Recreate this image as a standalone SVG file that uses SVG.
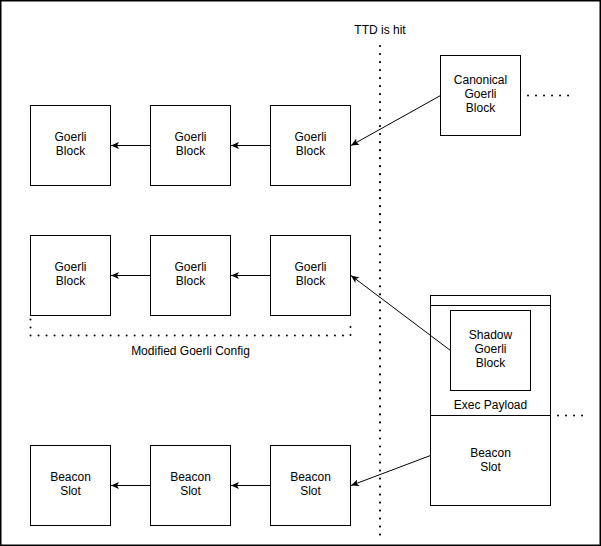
<svg xmlns="http://www.w3.org/2000/svg" width="601" height="546" viewBox="0 0 601 546">
<defs>
<style>
.box{fill:#fff;stroke:#000;stroke-width:1}
.lbl{font-family:"Liberation Sans",Arial,sans-serif;font-size:12px;fill:#000;text-anchor:middle}
.conn{stroke:#000;stroke-width:1;fill:none}
.dot{stroke:#000;stroke-width:2.2;fill:none;stroke-dasharray:0.01 8;stroke-linecap:round}
.dotthin{stroke:#000;stroke-width:2;fill:none;stroke-dasharray:0.01 8;stroke-linecap:round}
</style>
<marker id="arr" markerWidth="10" markerHeight="10" refX="8" refY="5" orient="auto" markerUnits="userSpaceOnUse">
<path d="M0,1.5 L8,5 L0,8.5 L2,5 Z" fill="#000"/>
</marker>
</defs>
<rect x="0.75" y="0.75" width="599.5" height="544.5" fill="#fff" stroke="#000" stroke-width="1.5"/>

<g id="ttd-line">
<line class="dot" x1="380" y1="46" x2="380" y2="536"/>
<text class="lbl" x="380" y="34">TTD is hit</text>
</g>

<g id="row1-b1"><rect class="box" x="30.5" y="105.5" width="80" height="80"/><text class="lbl" x="70.5" y="141">Goerli</text><text class="lbl" x="70.5" y="155">Block</text></g>
<g id="row1-b2"><rect class="box" x="150.5" y="105.5" width="80" height="80"/><text class="lbl" x="190.5" y="141">Goerli</text><text class="lbl" x="190.5" y="155">Block</text></g>
<g id="row1-b3"><rect class="box" x="270.5" y="105.5" width="80" height="80"/><text class="lbl" x="310.5" y="141">Goerli</text><text class="lbl" x="310.5" y="155">Block</text></g>
<g id="canonical"><rect class="box" x="440.5" y="55.5" width="80" height="80"/><text class="lbl" x="480.5" y="84">Canonical</text><text class="lbl" x="480.5" y="98">Goerli</text><text class="lbl" x="480.5" y="112">Block</text></g>

<g id="row2-b1"><rect class="box" x="30.5" y="235.5" width="80" height="80"/><text class="lbl" x="70.5" y="271">Goerli</text><text class="lbl" x="70.5" y="285">Block</text></g>
<g id="row2-b2"><rect class="box" x="150.5" y="235.5" width="80" height="80"/><text class="lbl" x="190.5" y="271">Goerli</text><text class="lbl" x="190.5" y="285">Block</text></g>
<g id="row2-b3"><rect class="box" x="270.5" y="235.5" width="80" height="80"/><text class="lbl" x="310.5" y="271">Goerli</text><text class="lbl" x="310.5" y="285">Block</text></g>

<g id="modified-config">
<path class="dotthin" d="M30.5,319.5 L30.5,335.5 L350.5,335.5 L350.5,319.5"/>
<text class="lbl" x="190.5" y="355">Modified Goerli Config</text>
</g>

<g id="row3-b1"><rect class="box" x="30.5" y="445.5" width="80" height="80"/><text class="lbl" x="70.5" y="481">Beacon</text><text class="lbl" x="70.5" y="495">Slot</text></g>
<g id="row3-b2"><rect class="box" x="150.5" y="445.5" width="80" height="80"/><text class="lbl" x="190.5" y="481">Beacon</text><text class="lbl" x="190.5" y="495">Slot</text></g>
<g id="row3-b3"><rect class="box" x="270.5" y="445.5" width="80" height="80"/><text class="lbl" x="310.5" y="481">Beacon</text><text class="lbl" x="310.5" y="495">Slot</text></g>

<g id="beacon-block">
<rect class="box" x="430.5" y="295.5" width="120" height="210"/>
<line class="conn" x1="430.5" y1="305.5" x2="550.5" y2="305.5"/>
<line class="conn" x1="430.5" y1="415.5" x2="550.5" y2="415.5"/>
<text class="lbl" x="490.5" y="409">Exec Payload</text>
<text class="lbl" x="490.5" y="457">Beacon</text>
<text class="lbl" x="490.5" y="471">Slot</text>
</g>
<g id="shadow"><rect class="box" x="450.5" y="310.5" width="80" height="80"/><text class="lbl" x="490.5" y="339">Shadow</text><text class="lbl" x="490.5" y="353">Goerli</text><text class="lbl" x="490.5" y="367">Block</text></g>

<g id="connectors">
<line class="conn" x1="150.5" y1="145.5" x2="111" y2="145.5" marker-end="url(#arr)"/>
<line class="conn" x1="270.5" y1="145.5" x2="231" y2="145.5" marker-end="url(#arr)" stroke-width="1.5"/>
<line class="conn" x1="440.5" y1="95.5" x2="351" y2="145.5" marker-end="url(#arr)"/>
<line class="conn" x1="150.5" y1="275.5" x2="111" y2="275.5" marker-end="url(#arr)"/>
<line class="conn" x1="270.5" y1="275.5" x2="231" y2="275.5" marker-end="url(#arr)" stroke-width="1.5" stroke="#555"/>
<line class="conn" x1="450.5" y1="350.5" x2="351" y2="275.5" marker-end="url(#arr)"/>
<line class="conn" x1="150.5" y1="485.5" x2="111" y2="485.5" marker-end="url(#arr)"/>
<line class="conn" x1="270.5" y1="485.5" x2="231" y2="485.5" marker-end="url(#arr)"/>
<line class="conn" x1="430.5" y1="455.5" x2="351" y2="485.5" marker-end="url(#arr)"/>
<line class="dotthin" x1="528" y1="95.5" x2="570" y2="95.5"/>
<line class="dotthin" x1="558" y1="415.5" x2="585" y2="415.5"/>
</g>
</svg>
